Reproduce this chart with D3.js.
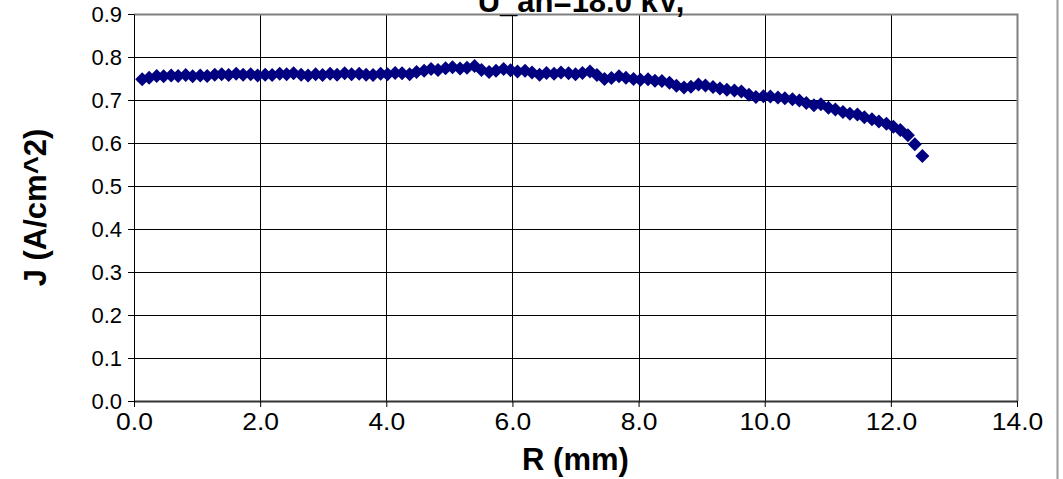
<!DOCTYPE html>
<html>
<head>
<meta charset="utf-8">
<script src="https://cdn.jsdelivr.net/npm/d3@7"></script>
<style>
  body { margin: 0; background: #fff; }
  svg { display: block; font-family: "Liberation Sans", Arial, sans-serif; }
</style>
</head>
<body>
<svg width="1063" height="479"></svg>
<script>
'use strict';

// radius values (mm)
var radius = [
  0.13, 0.24, 0.36, 0.47, 0.59, 0.70, 0.82, 0.93, 1.05, 1.16,
  1.28, 1.39, 1.50, 1.62, 1.73, 1.85, 1.96, 2.08, 2.19, 2.31,
  2.42, 2.53, 2.65, 2.76, 2.88, 2.99, 3.11, 3.22, 3.34, 3.45,
  3.57, 3.68, 3.79, 3.91, 4.02, 4.14, 4.25, 4.37, 4.48, 4.60,
  4.71, 4.82, 4.94, 5.05, 5.17, 5.28, 5.40, 5.51, 5.63, 5.74,
  5.86, 5.97, 6.08, 6.20, 6.31, 6.43, 6.54, 6.66, 6.77, 6.89,
  7.00, 7.11, 7.23, 7.34, 7.46, 7.57, 7.69, 7.80, 7.92, 8.03,
  8.15, 8.26, 8.37, 8.49, 8.60, 8.72, 8.83, 8.95, 9.06, 9.18,
  9.29, 9.40, 9.52, 9.63, 9.75, 9.86, 9.98, 10.09, 10.21, 10.32,
  10.44, 10.55, 10.66, 10.78, 10.89, 11.01, 11.12, 11.24, 11.35, 11.47,
  11.58, 11.70, 11.81, 11.93, 12.04, 12.15, 12.27, 12.38, 12.50
];

// current density (A/cm^2)
var density = [
  0.748, 0.752, 0.756, 0.755, 0.757, 0.756, 0.758, 0.755, 0.757, 0.756,
  0.759, 0.760, 0.758, 0.761, 0.759, 0.760, 0.757, 0.759, 0.758, 0.761,
  0.760, 0.762, 0.759, 0.757, 0.760, 0.758, 0.761, 0.759, 0.762, 0.760,
  0.761, 0.759, 0.758, 0.761, 0.760, 0.763, 0.762, 0.760, 0.765, 0.768,
  0.772, 0.770, 0.774, 0.776, 0.773, 0.775, 0.779, 0.770, 0.765, 0.768,
  0.772, 0.769, 0.766, 0.768, 0.764, 0.759, 0.763, 0.761, 0.764, 0.762,
  0.760, 0.763, 0.766, 0.758, 0.749, 0.751, 0.755, 0.752, 0.749, 0.747,
  0.748, 0.745, 0.744, 0.740, 0.733, 0.729, 0.731, 0.736, 0.734, 0.730,
  0.727, 0.724, 0.722, 0.720, 0.712, 0.707, 0.709, 0.708, 0.706, 0.704,
  0.702, 0.699, 0.693, 0.688, 0.690, 0.682, 0.678, 0.672, 0.668, 0.666,
  0.660, 0.655, 0.650, 0.645, 0.638, 0.630, 0.618, 0.597, 0.570
];

var xTicks = [0, 2, 4, 6, 8, 10, 12, 14];
var yTicks = [0, 0.1, 0.2, 0.3, 0.4, 0.5, 0.6, 0.7, 0.8, 0.9];

var titleText = 'U_an=18.0 kV,';
var xTitle = 'R (mm)';
var yTitle = 'J (A/cm^2)';

var MARGIN = { left: 134, right: 46, top: 14, bottom: 78 };
var W = 1063, H = 479;
var plotW = W - MARGIN.left - MARGIN.right;
var plotH = H - MARGIN.top - MARGIN.bottom;

var svg = d3.select('svg');

var data = radius.map(function(r, i) { return { r: r, j: density[i] }; });

var x = d3.scaleLinear().domain([0, 14]).range([0, plotW]);
var y = d3.scaleLinear().domain([0, 0.9]).range([plotH, 0]);

//chart area border on the right
svg.append('line')
    .attr('x1', 1057.5).attr('x2', 1057.5)
    .attr('y1', 0).attr('y2', H)
    .attr('stroke', '#9a9a9a')
    .attr('stroke-width', 2);

var canvas = svg.append('g')
    .attr('transform', 'translate(' + MARGIN.left + ',' + MARGIN.top + ')');

//grid
canvas.append('g')
    .selectAll('line')
    .data(yTicks.slice(1, -1))
    .enter()
    .append('line')
    .attr('x1', 0).attr('x2', plotW)
    .attr('y1', function(d) { return Math.round(y(d)) + 0.5; })
    .attr('y2', function(d) { return Math.round(y(d)) + 0.5; })
    .attr('stroke', '#000');

canvas.append('g')
    .selectAll('line')
    .data(xTicks.slice(1, -1))
    .enter()
    .append('line')
    .attr('y1', 0).attr('y2', plotH)
    .attr('x1', function(d) { return Math.round(x(d)) + 0.5; })
    .attr('x2', function(d) { return Math.round(x(d)) + 0.5; })
    .attr('stroke', '#000');

//plot area border (top / right)
canvas.append('path')
    .attr('d', 'M0,0.5H' + (plotW + 0.5) + 'V' + plotH)
    .attr('fill', 'none')
    .attr('stroke', '#808080')
    .attr('stroke-width', 2);

//axes
var axisX = d3.axisBottom(x)
    .tickValues(xTicks)
    .tickFormat(d3.format('.1f'))
    .tickSize(6)
    .tickSizeOuter(0)
    .tickPadding(7);

var axisY = d3.axisLeft(y)
    .tickValues(yTicks)
    .tickFormat(d3.format('.1f'))
    .tickSize(6)
    .tickSizeOuter(0)
    .tickPadding(6);

var gx = canvas.append('g')
    .attr('transform', 'translate(0,' + plotH + ')')
    .call(axisX);
gx.select('.domain').attr('stroke', '#333').attr('stroke-width', 2);

var gy = canvas.append('g')
    .call(axisY);
gy.select('.domain').attr('stroke', '#000');

canvas.selectAll('.tick text')
    .attr('font-size', 22)
    .attr('font-family', '"Liberation Sans", Arial, sans-serif')
    .attr('fill', '#000');
canvas.selectAll('.tick line').attr('stroke', '#000');

//x labels are a bit larger and wider in the original
gx.selectAll('.tick text')
    .attr('font-size', 23)
    .attr('transform', 'scale(1.15,1)');

//data points
var diamond = d3.symbol().type(d3.symbolSquare).size(98);
canvas.append('g')
    .selectAll('path')
    .data(data)
    .enter()
    .append('path')
    .attr('d', diamond)
    .attr('transform', function(d) {
        return 'translate(' + x(d.r) + ',' + y(d.j) + ') rotate(45)';
    })
    .attr('fill', '#000080');

//titles
svg.append('text')
    .attr('x', 581).attr('y', 12)
    .attr('text-anchor', 'middle')
    .attr('font-size', 31)
    .attr('font-weight', 'bold')
    .text(titleText);

svg.append('text')
    .attr('x', MARGIN.left + plotW / 2).attr('y', 470)
    .attr('text-anchor', 'middle')
    .attr('font-size', 31)
    .attr('font-weight', 'bold')
    .text(xTitle);

svg.append('text')
    .attr('transform', 'translate(46,' + (MARGIN.top + plotH / 2) + ') rotate(-90)')
    .attr('text-anchor', 'middle')
    .attr('font-size', 31)
    .attr('font-weight', 'bold')
    .text(yTitle);
</script>
</body>
</html>
